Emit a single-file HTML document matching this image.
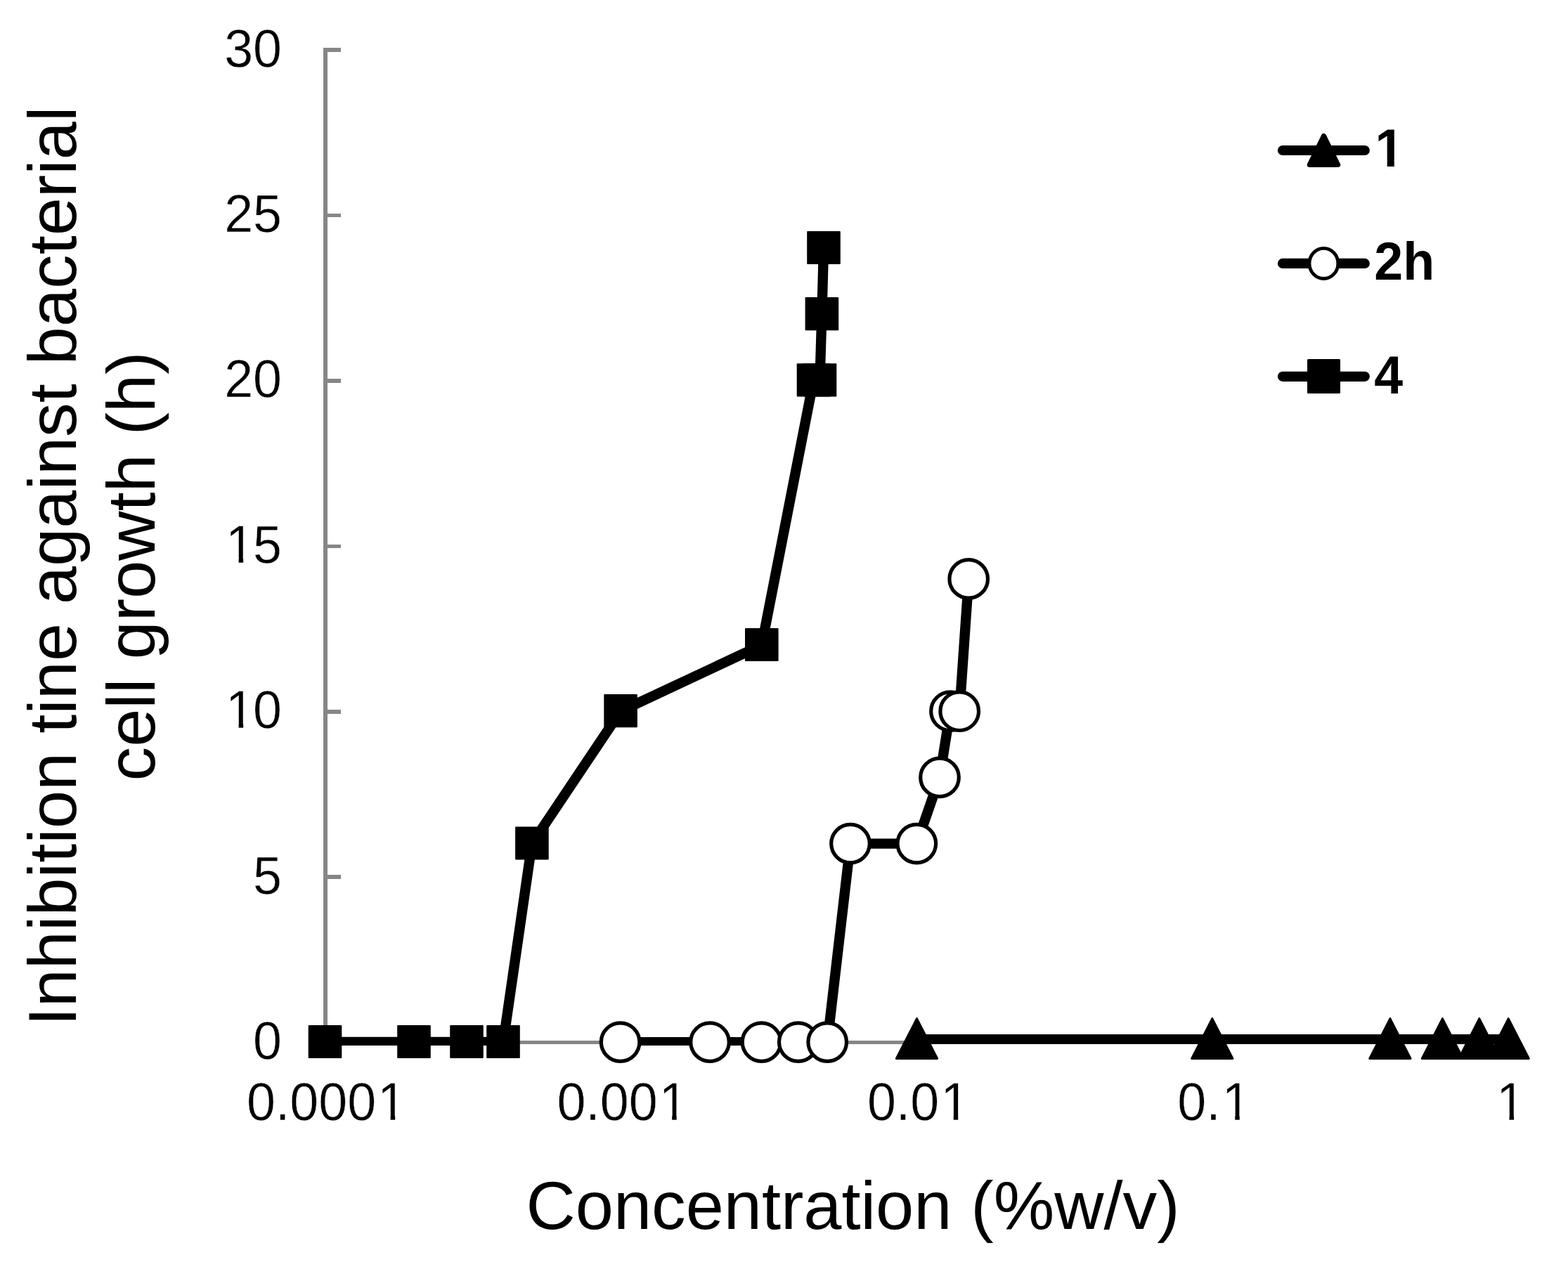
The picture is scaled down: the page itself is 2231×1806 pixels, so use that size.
<!DOCTYPE html>
<html lang="en">
<head>
<meta charset="utf-8">
<title>Inhibition tine against bacterial cell growth (h)</title>
<style>
html,body{margin:0;padding:0;background:#ffffff;}
body{width:2231px;height:1806px;overflow:hidden;}
svg{display:block;}
text{font-family:"Liberation Sans",sans-serif;fill:#000000;font-kerning:none;}
.tick text{stroke:#ffffff;stroke-width:0.45px;paint-order:fill stroke;}
.tick{font-size:73.6px;}
.title{font-size:97.3px;}
.leg{font-size:73.6px;font-weight:bold;}
</style>
</head>
<body>
<svg width="2231" height="1806" viewBox="0 0 2231 1806">
<defs>
<clipPath id="k1"><path clip-rule="evenodd" d="M259.1 -120H461.0V60H259.1Z M324.74 -7.10H339.64V4H324.74Z M346.15 -7.10H360.47V4H346.15Z"/></clipPath>
<clipPath id="k2"><path clip-rule="evenodd" d="M259.1 -120H461.0V60H259.1Z M324.74 -7.10H339.64V4H324.74Z M346.15 -7.10H360.47V4H346.15Z"/></clipPath>
<clipPath id="k3"><path clip-rule="evenodd" d="M290.9 -120H636.1V60H290.9Z M540.73 -7.10H555.63V4H540.73Z M562.14 -7.10H576.46V4H562.14Z"/></clipPath>
<clipPath id="k4"><path clip-rule="evenodd" d="M732.4 -120H1036.6V60H732.4Z M941.26 -7.10H956.16V4H941.26Z M962.67 -7.10H977.00V4H962.67Z"/></clipPath>
<clipPath id="k5"><path clip-rule="evenodd" d="M1173.9 -120H1437.1V60H1173.9Z M1341.80 -7.10H1356.70V4H1341.80Z M1363.20 -7.10H1377.53V4H1363.20Z"/></clipPath>
<clipPath id="k6"><path clip-rule="evenodd" d="M1615.3 -120H1837.7V60H1615.3Z M1742.33 -7.10H1757.23V4H1742.33Z M1763.74 -7.10H1778.06V4H1763.74Z"/></clipPath>
<clipPath id="k7"><path clip-rule="evenodd" d="M2067.0 -120H2228.0V60H2067.0Z M2132.64 -7.10H2147.54V4H2132.64Z M2154.05 -7.10H2168.37V4H2154.05Z"/></clipPath>
<clipPath id="plot"><rect x="440" y="40" width="1740" height="1448"/></clipPath>
<clipPath id="k8"><path clip-rule="evenodd" d="M1895.3 -120H2056.2V60H1895.3Z M1959.14 -9.11H1973.68V4H1959.14Z M1983.78 -9.11H1997.38V4H1983.78Z"/></clipPath>
</defs>
<rect x="0" y="0" width="2231" height="1806" fill="#ffffff"/>
<g fill="#868686" shape-rendering="crispEdges">
<rect x="460" y="68" width="6" height="1418"/>
<rect x="460" y="1481" width="1689" height="5"/>
<rect x="460" y="68.2" width="25" height="5.6"/>
<rect x="460" y="303.6" width="25" height="5.6"/>
<rect x="460" y="539.0" width="25" height="5.6"/>
<rect x="460" y="774.5" width="25" height="5.6"/>
<rect x="460" y="1009.9" width="25" height="5.6"/>
<rect x="460" y="1245.3" width="25" height="5.6"/>
</g>
<g class="tick">
<text transform="translate(0,94.6) scale(1,1.0430)" x="319.13 360.07">30</text>
<text transform="translate(0,330.0) scale(1,1.0430)" x="319.13 360.07">25</text>
<text transform="translate(0,565.4) scale(1,1.0430)" x="319.13 360.07">20</text>
<text transform="translate(0,800.9) scale(1,1.0430)" x="321.13 360.07" clip-path="url(#k1)">15</text>
<text transform="translate(0,1036.3) scale(1,1.0430)" x="321.13 360.07" clip-path="url(#k2)">10</text>
<text transform="translate(0,1271.7) scale(1,1.0430)" x="360.07">5</text>
<text transform="translate(0,1507.1) scale(1,1.0430)" x="360.07">0</text>
</g>
<g class="tick">
<text transform="translate(0,1594.0) scale(1,1.0430)" x="350.94 391.88 412.33 453.26 494.19 537.12" clip-path="url(#k3)">0.0001</text>
<text transform="translate(0,1594.0) scale(1,1.0430)" x="792.41 833.34 853.79 894.72 937.66" clip-path="url(#k4)">0.001</text>
<text transform="translate(0,1594.0) scale(1,1.0430)" x="1233.88 1274.81 1295.26 1338.19" clip-path="url(#k5)">0.01</text>
<text transform="translate(0,1594.0) scale(1,1.0430)" x="1675.34 1716.28 1738.72" clip-path="url(#k6)">0.1</text>
<text transform="translate(0,1594.0) scale(1,1.0430)" x="2129.03" clip-path="url(#k7)">1</text>
</g>
<text class="title" text-anchor="middle" x="1213.6" y="1749">Concentration (%w/v)</text>
<g class="title" text-anchor="middle" transform="translate(0,805.9) rotate(-90)">
<text x="0" y="108">Inhibition tine against bacterial</text>
<text x="0" y="220">cell growth (h)</text>
</g>
<g fill="#000000" stroke="#000000">
<line x1="1304.5" y1="1479" x2="2146.2" y2="1479" stroke-width="14" shape-rendering="crispEdges"/>
<path d="M1304.5 1449.6 L1333.6 1506.4 L1275.4 1506.4 Z" stroke-width="3" stroke-linejoin="round"/>
<path d="M1724.8 1449.6 L1753.9 1506.4 L1695.7 1506.4 Z" stroke-width="3" stroke-linejoin="round"/>
<path d="M1977.9 1449.6 L2007.0 1506.4 L1948.8 1506.4 Z" stroke-width="3" stroke-linejoin="round"/>
<path d="M2052.4 1449.6 L2081.5 1506.4 L2023.3 1506.4 Z" stroke-width="3" stroke-linejoin="round"/>
<path d="M2104.8 1449.6 L2133.9 1506.4 L2075.7 1506.4 Z" stroke-width="3" stroke-linejoin="round"/>
<path d="M2146.2 1449.6 L2175.3 1506.4 L2117.1 1506.4 Z" stroke-width="3" stroke-linejoin="round"/>
</g>
<polyline points="882.6,1483.1 1010.0,1483.1 1083.5,1483.1 1135.8,1483.1 1177.2,1483.1 1210.0,1200.6 1304.3,1200.6 1337.0,1106.4 1352.0,1012.2 1365.2,1012.2 1378.2,823.9" fill="none" stroke="#000000" stroke-width="14.4" stroke-linejoin="round" clip-path="url(#plot)"/>
<g fill="#ffffff" stroke="#000000" stroke-width="5.2">
<circle cx="882.6" cy="1483.1" r="27.3"/>
<circle cx="1010.0" cy="1483.1" r="27.3"/>
<circle cx="1083.5" cy="1483.1" r="27.3"/>
<circle cx="1135.8" cy="1483.1" r="27.3"/>
<circle cx="1177.2" cy="1483.1" r="27.3"/>
<circle cx="1210.0" cy="1200.6" r="27.3"/>
<circle cx="1304.3" cy="1200.6" r="27.3"/>
<circle cx="1337.0" cy="1106.4" r="27.3"/>
<circle cx="1352.0" cy="1012.2" r="27.3"/>
<circle cx="1365.2" cy="1012.2" r="27.3"/>
<circle cx="1378.2" cy="823.9" r="27.3"/>
</g>
<polyline points="462.5,1483.0 589.0,1483.0 664.0,1483.0 716.0,1483.0 756.9,1200.5 883.1,1012.1 1083.8,918.0 1157.5,541.3 1166.5,541.3 1169.4,447.1 1172.0,353.0" fill="none" stroke="#000000" stroke-width="14.4" stroke-linejoin="round" clip-path="url(#plot)"/>
<g fill="#000000">
<rect x="438.7" y="1458.9" width="47.6" height="47.2" rx="1"/>
<rect x="565.2" y="1458.9" width="47.6" height="47.2" rx="1"/>
<rect x="640.2" y="1458.9" width="47.6" height="47.2" rx="1"/>
<rect x="692.2" y="1458.9" width="47.6" height="47.2" rx="1"/>
<rect x="733.1" y="1176.4" width="47.6" height="47.2" rx="1"/>
<rect x="859.3" y="988.0" width="47.6" height="47.2" rx="1"/>
<rect x="1060.0" y="893.9" width="47.6" height="47.2" rx="1"/>
<rect x="1133.7" y="517.2" width="47.6" height="47.2" rx="1"/>
<rect x="1142.7" y="517.2" width="47.6" height="47.2" rx="1"/>
<rect x="1145.6" y="423.0" width="47.6" height="47.2" rx="1"/>
<rect x="1148.2" y="328.9" width="47.6" height="47.2" rx="1"/>
</g>
<g stroke="#000000" stroke-width="14.2" stroke-linecap="round">
<line x1="1825" y1="214.0" x2="1941.8" y2="214.0"/>
<line x1="1825" y1="374.9" x2="1941.8" y2="374.9"/>
<line x1="1825" y1="535.8" x2="1941.8" y2="535.8"/>
</g>
<path d="M1883.5 193.3 L1903.7 234.6 L1863.2 234.6 Z" fill="#000000" stroke="#000000" stroke-width="7" stroke-linejoin="round"/>
<ellipse cx="1883.4" cy="374.9" rx="20.4" ry="21.6" fill="#ffffff" stroke="#000000" stroke-width="4.8"/>
<rect x="1860" y="510.9" width="47" height="49" rx="1.5" fill="#000000"/>
<g class="leg">
<text transform="translate(0,237.0) scale(1,1.0430)" x="1956.50" clip-path="url(#k8)">1</text>
<text transform="translate(0,398.1) scale(1,1.0430)" x="1955.30 1996.23">2h</text>
<text transform="translate(0,560.0) scale(1,1.0430)" x="1955.30">4</text>
</g>
</svg>
</body>
</html>
